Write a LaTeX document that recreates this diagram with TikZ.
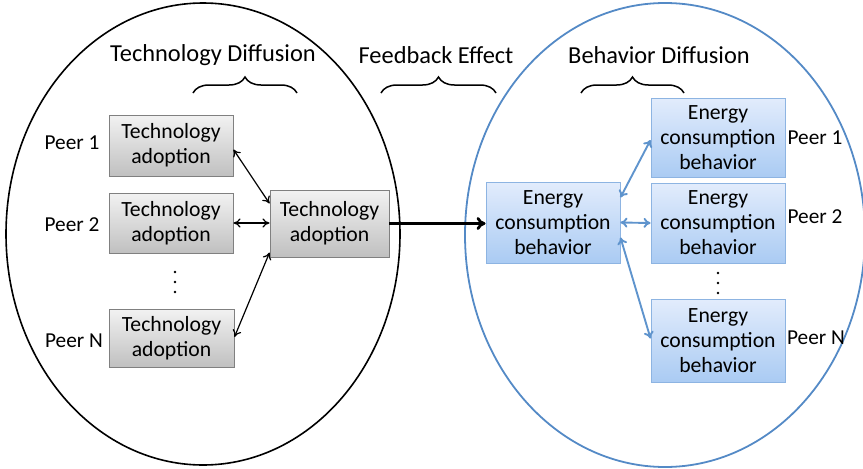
\documentclass[tikz,border=0pt]{standalone}
\usepackage{fontspec}
\setmainfont{Carlito}
\usetikzlibrary{arrows.meta,calc,decorations.pathreplacing}
\definecolor{ellblue}{RGB}{84,138,198}
\definecolor{arrblue}{RGB}{95,148,205}
\definecolor{bboxtop}{RGB}{226,236,252}
\definecolor{bboxbot}{RGB}{170,203,243}
\definecolor{bboxdraw}{RGB}{141,180,226}
\definecolor{gboxtop}{RGB}{242,242,242}
\definecolor{gboxbot}{RGB}{192,192,192}
\definecolor{gboxdraw}{RGB}{128,128,128}
\tikzset{
  graybox/.style={draw=gboxdraw, line width=0.9pt, top color=gboxtop, bottom color=gboxbot,
    align=center, inner sep=0pt, font=\fontsize{21.7}{25}\selectfont},
  bluebox/.style={draw=bboxdraw, line width=0.9pt, top color=bboxtop, bottom color=bboxbot,
    align=center, inner sep=0pt, font=\fontsize{21.7}{25}\selectfont},
  peerlbl/.style={font=\fontsize{21.3}{25}\selectfont, inner sep=0pt},
  titlelbl/.style={font=\fontsize{24.4}{28}\selectfont, inner sep=0pt},
  blackarr/.style={line width=1.2pt, {To[length=7pt,width=9pt]}-{To[length=7pt,width=9pt]}},
  bluearr/.style={draw=arrblue, line width=1.9pt, {To[length=7pt,width=10pt]}-{To[length=7pt,width=10pt]}},
  bracestyle/.style={line width=1.5pt, decorate, decoration={brace, amplitude=16pt}},
  dotstyle/.style={fill=black, draw=none}
}
\begin{document}
\begin{tikzpicture}[x=1pt,y=-1pt]
\useasboundingbox (0,0) rectangle (863,469);
% ellipses
\draw[line width=1.6pt] (203,234) ellipse [x radius=197, y radius=231];
\draw[ellblue, line width=1.8pt] (665,235) ellipse [x radius=200, y radius=232];
% titles
\node[titlelbl] (t1) at (213,55) {Technology Diffusion};
\node[titlelbl] (t2) at (436,55) {Feedback Effect};
\node[titlelbl] (t3) at (659,55) {Behavior Diffusion};
% braces
\draw[bracestyle] (193,93) -- (297,93);
\draw[bracestyle] (381,93) -- (496,93);
\draw[bracestyle] (581,93) -- (684,93);
% gray boxes
\node[graybox, minimum width=124pt, minimum height=61pt] (p1) at (171,145.5) {Technology\\adoption};
\node[graybox, minimum width=124pt, minimum height=60pt] (p2) at (171,223) {Technology\\adoption};
\node[graybox, minimum width=125pt, minimum height=58pt] (pn) at (171.5,338) {Technology\\adoption};
\node[graybox, minimum width=119pt, minimum height=67pt] (ct) at (329.5,223.5) {Technology\\adoption};
% blue boxes
\node[bluebox, minimum width=134pt, minimum height=81pt] (bc) at (553,222.5) {Energy\\consumption\\behavior};
\node[bluebox, minimum width=134pt, minimum height=79pt] (b1) at (718,137.5) {Energy\\consumption\\behavior};
\node[bluebox, minimum width=134pt, minimum height=80pt] (b2) at (718,223) {Energy\\consumption\\behavior};
\node[bluebox, minimum width=134pt, minimum height=83pt] (bn) at (718,340.5) {Energy\\consumption\\behavior};
% peer labels
\node[peerlbl] (lp1) at (72,143) {Peer 1};
\node[peerlbl] (lp2) at (72,225) {Peer 2};
\node[peerlbl] (lpn) at (74,341) {Peer N};
\node[peerlbl] (rp1) at (815,138) {Peer 1};
\node[peerlbl] (rp2) at (815,217) {Peer 2};
\node[peerlbl] (rpn) at (816,338) {Peer N};
% dots
\foreach \yy in {272,282,292} {\fill[dotstyle] (175,\yy) circle (1.3pt);}
\foreach \yy in {273,283,293} {\fill[dotstyle] (718,\yy) circle (1.3pt);}
% arrows left
\draw[blackarr] ($(p1.east)+(0,4)$) -- ($(ct.west)+(0,-20)$);
\draw[blackarr] (p2.east) -- (ct.west |- p2.east);
\draw[blackarr] ($(pn.east)+(0,-1)$) -- ($(ct.west)+(0,29)$);
% thick arrow
\draw[line width=2.8pt, -{To[length=9pt,width=13pt]}] (ct.east) -- (ct.east -| bc.west);
% arrows right
\draw[bluearr] ($(bc.east)+(0,-25)$) -- ($(b1.west)+(0,2.5)$);
\draw[bluearr] (bc.east) -- (b2.west);
\draw[bluearr] ($(bc.east)+(0,15)$) -- ($(bn.west)+(0,-2)$);
\end{tikzpicture}
\end{document}
